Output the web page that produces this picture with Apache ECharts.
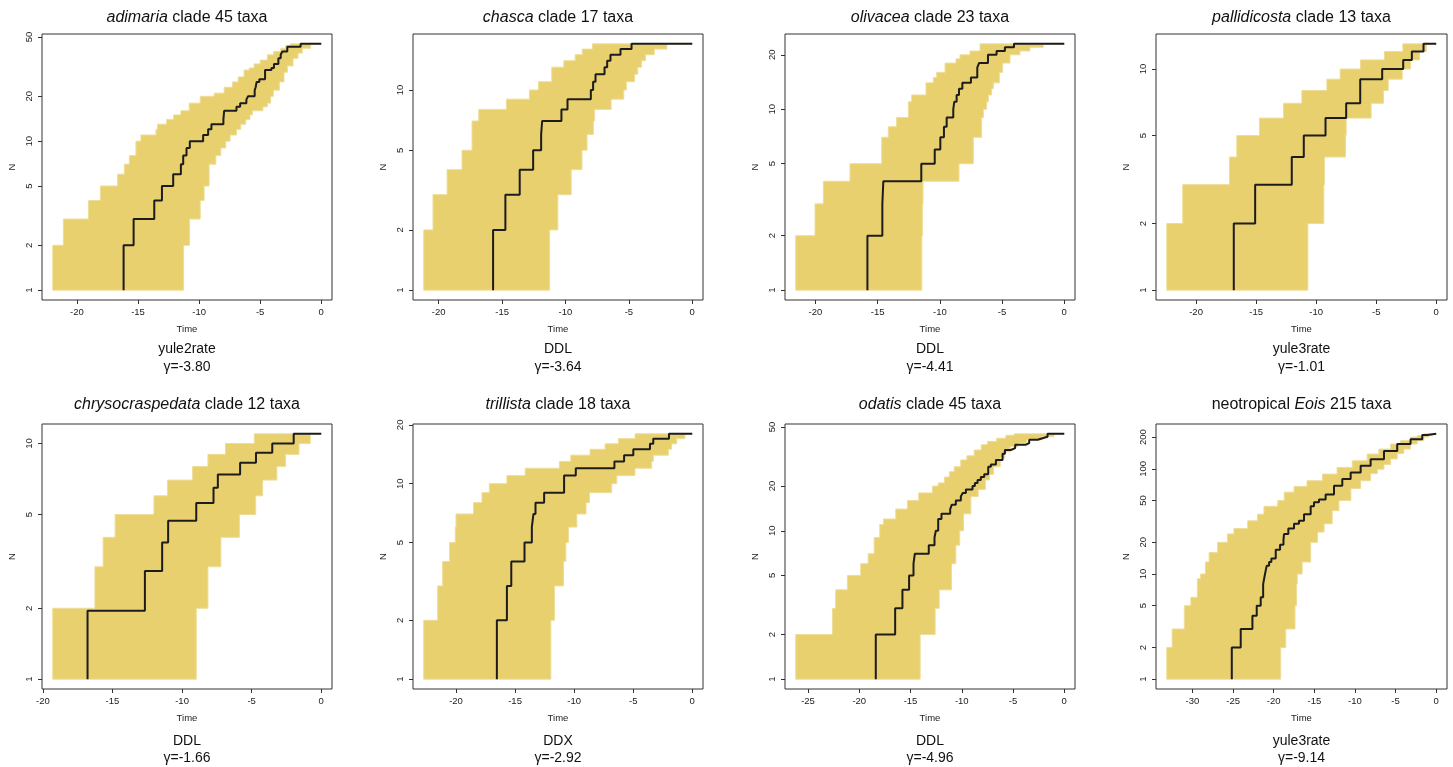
<!DOCTYPE html>
<html>
<head>
<meta charset="utf-8">
<title>Lineage through time plots</title>
<script src="https://cdn.jsdelivr.net/npm/echarts@6/dist/echarts.min.js"></script>
<style>
  html, body { margin: 0; padding: 0; background: #fff; }
  #chart { width: 1453px; height: 767px; }
</style>
</head>
<body>
<div id="chart"></div>
<script>
// panel texts
const panelTitles = [
  '{i|adimaria} clade 45 taxa', '{i|chasca} clade 17 taxa', '{i|olivacea} clade 23 taxa', '{i|pallidicosta} clade 13 taxa',
  '{i|chrysocraspedata} clade 12 taxa', '{i|trillista} clade 18 taxa', '{i|odatis} clade 45 taxa', 'neotropical {i|Eois} 215 taxa'
];
const models = ['yule2rate', 'DDL', 'DDL', 'yule3rate', 'DDL', 'DDX', 'DDL', 'yule3rate'];
const gammas = ['-3.80', '-3.64', '-4.41', '-1.01', '-1.66', '-2.92', '-4.96', '-9.14'];

// tick labels
const xTicks = [
  [-20, -15, -10, -5, 0], [-20, -15, -10, -5, 0], [-20, -15, -10, -5, 0], [-20, -15, -10, -5, 0],
  [-20, -15, -10, -5, 0], [-20, -15, -10, -5, 0], [-25, -20, -15, -10, -5, 0], [-30, -25, -20, -15, -10, -5, 0]
];
const yTicks = [
  [1, 2, 5, 10, 20, 50], [1, 2, 5, 10], [1, 2, 5, 10, 20], [1, 2, 5, 10],
  [1, 2, 5, 10], [1, 2, 5, 10, 20], [1, 2, 5, 10, 20, 50], [1, 2, 5, 10, 20, 50, 100, 200]
];

// every entry is [time, N]: at that time the lineage count jumps to N (starts at 1)
// obs = empirical tree, upper / lower = outer edges of the simulated trees
const adimariaObs = [[-16.18,2],[-15.36,3],[-13.67,4],[-13.04,5],[-12.12,6],[-11.49,7],[-11.30,8],[-11.03,9],[-10.76,10],[-9.67,11],[-9.26,12],[-8.99,13],[-8.01,14],[-7.95,16],[-6.94,17],[-6.64,18],[-6.13,19],[-5.99,20],[-5.45,22],[-5.37,23],[-5.29,25],[-5.07,26],[-4.60,30],[-4.08,31],[-3.87,33],[-3.51,36],[-3.32,38],[-3.19,40],[-2.78,43],[-1.69,45]];
const adimariaUpper = [[-21.98,2],[-21.11,3],[-19.06,4],[-18.08,5],[-16.67,6],[-16.12,7],[-15.71,8],[-15.17,10],[-14.76,11],[-13.53,12],[-13.40,13],[-12.66,14],[-12.09,15],[-11.49,16],[-10.81,18],[-9.91,20],[-8.77,21],[-7.95,23],[-7.27,25],[-6.8,27],[-6.32,30],[-5.9,31],[-5.5,33],[-5.0,35],[-4.41,38],[-3.9,40],[-3.32,42],[-2.9,44],[-2.51,45]];
const adimariaLower = [[-11.27,2],[-10.78,3],[-9.91,4],[-9.59,5],[-9.18,7],[-8.63,8],[-8.22,9],[-7.82,10],[-7.46,11],[-6.94,12],[-6.59,13],[-6.18,14],[-5.83,15],[-5.64,16],[-4.77,17],[-4.41,18],[-4.14,20],[-3.92,22],[-3.43,25],[-3.05,29],[-2.78,32],[-2.31,36],[-1.9,39],[-1.55,42],[-0.87,45]];

const chascaObs = [[-15.71,2],[-14.74,3],[-13.61,4],[-12.55,5],[-11.92,6],[-11.84,7],[-10.32,8],[-9.84,9],[-8.0,10],[-7.82,11],[-7.63,12],[-6.92,13],[-6.71,14],[-6.45,15],[-5.66,16],[-4.79,17]];
const chascaUpper = [[-21.18,2],[-20.45,3],[-19.34,4],[-18.16,5],[-17.37,7],[-16.84,8],[-14.66,9],[-12.84,10],[-12.13,11],[-11.08,13],[-10.13,14],[-9.24,15],[-8.68,16],[-7.87,17]];
const chascaLower = [[-11.25,2],[-10.6,3],[-9.55,4],[-8.7,5],[-8.3,6],[-7.8,7],[-7.7,8],[-6.4,9],[-5.4,10],[-5.2,11],[-4.55,12],[-4.3,13],[-4.0,14],[-3.7,15],[-3.0,16],[-2.0,17]];

const olivaceaObs = [[-15.82,2],[-14.62,3],[-14.54,4],[-11.49,5],[-10.41,6],[-9.96,7],[-9.67,8],[-9.45,9],[-8.92,10],[-8.84,11],[-8.65,12],[-8.46,13],[-8.19,14],[-7.50,15],[-6.99,17],[-6.85,18],[-6.13,20],[-5.44,21],[-4.77,22],[-4.04,23]];
const olivaceaUpper = [[-21.58,2],[-20.03,3],[-19.36,4],[-17.22,5],[-14.67,7],[-14.14,8],[-13.47,9],[-12.53,11],[-12.26,12],[-11.11,14],[-10.52,15],[-10.25,16],[-9.58,18],[-8.70,19],[-8.38,20],[-7.58,21],[-6.77,23]];
const olivaceaLower = [[-11.45,2],[-11.4,3],[-11.35,4],[-8.46,5],[-7.31,7],[-6.64,9],[-6.5,10],[-6.24,11],[-6.1,12],[-5.84,13],[-5.7,14],[-5.22,16],[-4.95,18],[-4.36,20],[-3.56,21],[-2.76,22],[-1.69,23]];

const pallidicostaObs = [[-16.86,2],[-15.08,3],[-12.03,4],[-11.03,5],[-9.22,6],[-7.5,7],[-6.33,9],[-4.5,10],[-2.75,11],[-2.03,12],[-1.06,13]];
const pallidicostaUpper = [[-22.44,2],[-21.11,3],[-17.22,4],[-16.61,5],[-14.72,6],[-12.72,7],[-11.19,8],[-9.11,9],[-8.0,10],[-6.31,11],[-4.31,12],[-2.78,13]];
const pallidicostaLower = [[-10.69,2],[-9.36,3],[-9.3,4],[-7.56,5],[-7.5,6],[-5.42,7],[-4.39,8],[-4.0,9],[-2.83,10],[-2.14,11],[-1.39,12],[-0.83,13]];

const chrysoObs = [[-16.79,1.95],[-12.67,2.88],[-11.43,3.8],[-11.0,4.7],[-8.98,5.6],[-7.74,6.5],[-7.43,7.4],[-5.83,8.3],[-4.69,9.15],[-3.52,10],[-1.98,11]];
const chrysoUpper = [[-19.29,2],[-16.26,3],[-15.67,4],[-14.81,5],[-12.02,6],[-11.05,7],[-9.24,8],[-8.14,9],[-6.88,10],[-4.81,11]];
const chrysoLower = [[-8.98,2],[-8.14,3],[-7.21,4],[-5.88,5],[-4.71,6],[-4.21,7],[-3.19,8],[-2.57,9],[-1.6,10],[-0.79,11]];

const trillistaObs = [[-16.54,2],[-15.69,3],[-15.32,4],[-14.2,5],[-13.58,6],[-13.44,7],[-13.27,8],[-12.54,9],[-10.85,11],[-9.86,12],[-6.59,13],[-5.77,14],[-4.99,15],[-3.58,16],[-3.3,17],[-1.97,18]];
const trillistaUpper = [[-22.73,2],[-21.55,3],[-21.13,4],[-20.54,5],[-20.06,6],[-20.0,7],[-18.51,8],[-17.8,9],[-17.18,10],[-15.69,11],[-14.14,12],[-11.24,13],[-10.28,14],[-8.65,15],[-7.38,16],[-6.25,17],[-4.84,18]];
const trillistaLower = [[-11.97,2],[-11.66,3],[-10.9,4],[-10.7,5],[-10.48,6],[-9.77,7],[-8.99,8],[-8.7,9],[-6.82,10],[-6.39,11],[-4.85,12],[-3.44,13],[-3.3,14],[-2.03,15],[-1.75,16],[-1.32,17],[-0.62,18]];

const odatisObs = [[-18.39,2],[-16.5,3],[-15.79,4],[-15.14,5],[-14.71,6],[-14.58,7],[-13.22,8],[-12.66,9],[-12.53,10],[-12.3,12],[-11.98,13],[-11.13,14],[-10.97,15],[-10.58,16],[-10.09,17],[-9.9,18],[-9.6,19],[-8.95,20],[-8.72,21],[-8.46,22],[-8.14,23],[-7.81,24],[-7.42,27],[-7.16,28],[-6.67,30],[-6.02,33],[-5.79,35],[-5.21,36],[-4.79,38],[-3.74,39],[-3.42,41],[-2.6,42],[-2.12,43],[-1.63,45]];
const odatisUpper = [[-26.2,2],[-22.62,3],[-22.3,4],[-21.16,5],[-19.86,6],[-19.14,7],[-18.55,9],[-18.0,11],[-17.64,12],[-16.44,14],[-15.3,16],[-14.2,18],[-12.86,20],[-12.3,21],[-11.7,23],[-11.2,25],[-10.74,27],[-10.1,30],[-9.5,32],[-8.79,35],[-8.1,38],[-7.49,40],[-6.6,42],[-5.7,44],[-4.88,45]];
const odatisLower = [[-14.06,2],[-12.6,3],[-12.2,4],[-11.0,6],[-10.58,8],[-10.2,10],[-9.83,13],[-9.11,17],[-8.4,19],[-7.7,22],[-7.3,24],[-6.9,27],[-6.25,31],[-5.8,34],[-5.27,37],[-4.5,39],[-3.65,41],[-2.2,43],[-1.0,45]];

const eoisObs = [[-25.16,2],[-24.06,3],[-22.62,4],[-22.09,5],[-21.6,6],[-21.3,8],[-21.07,10],[-20.86,12],[-20.57,13],[-20.29,14],[-19.75,17],[-19.22,19],[-18.8,21],[-18.73,24],[-18.2,27],[-17.5,30],[-16.89,32],[-16.27,37],[-15.45,44],[-15.04,48],[-14.43,51],[-13.61,57],[-12.58,69],[-11.56,80],[-10.53,92],[-9.3,107],[-8.07,123],[-6.43,148],[-4.8,172],[-3.16,191],[-1.72,210],[-1.1,215]];
const eoisUpper = [[-33.16,2],[-32.5,3],[-31.0,5],[-30.2,6],[-29.4,9],[-29.0,10],[-28.4,13],[-27.95,16],[-26.9,20],[-25.7,24],[-24.9,27],[-23.2,32],[-22.0,37],[-21.2,44],[-19.5,50],[-18.7,60],[-17.5,68],[-15.9,77],[-14.0,89],[-12.2,103],[-10.33,119],[-8.5,138],[-7.05,154],[-5.6,172],[-4.39,185],[-3.16,200],[-2.34,207],[-1.5,215]];
const eoisLower = [[-19.14,2],[-18.52,3],[-17.38,5],[-17.2,8],[-17.1,10],[-16.5,13],[-15.45,20],[-14.6,25],[-13.8,30],[-12.8,40],[-11.97,50],[-10.5,65],[-9.3,77],[-8.07,90],[-7.25,99],[-6.43,110],[-5.61,124],[-4.8,140],[-3.98,154],[-3.16,172],[-2.34,185],[-1.52,200],[-0.9,208],[-0.5,215]];

const panels = [
  { obs: adimariaObs, upper: adimariaUpper, lower: adimariaLower },
  { obs: chascaObs, upper: chascaUpper, lower: chascaLower },
  { obs: olivaceaObs, upper: olivaceaUpper, lower: olivaceaLower },
  { obs: pallidicostaObs, upper: pallidicostaUpper, lower: pallidicostaLower },
  { obs: chrysoObs, upper: chrysoUpper, lower: chrysoLower },
  { obs: trillistaObs, upper: trillistaUpper, lower: trillistaLower },
  { obs: odatisObs, upper: odatisUpper, lower: odatisLower },
  { obs: eoisObs, upper: eoisUpper, lower: eoisLower }
];

const FONT = "'Liberation Sans', Arial, Helvetica, sans-serif";
const FILL = '#E8D06E';
const EDGE = '#EEDD98';
const INK = '#222';

const colLeft = [42, 413, 785, 1156];
const colWidth = [290, 290, 290, 291];
const rowTop = [34, 424];
const rowHeight = [266, 265];
const titleTop = [10, 397];
const modelTop = [342, 734];
const gammaTop = [360, 751];

const lg = n => Math.log10(n);

// outline of the simulated band: outer step edge, then inner step edge backwards
function bandOutline(upper, lower) {
  const pts = [[upper[0][0], 1]];
  let prev = 1;
  upper.forEach(([t, n]) => { pts.push([t, prev], [t, n]); prev = n; });
  pts.push([0, prev]);
  for (let i = lower.length - 1; i >= 0; i--) {
    const [t, n] = lower[i];
    pts.push([t, n], [t, i > 0 ? lower[i - 1][1] : 1]);
  }
  return pts;
}

const grids = [], xAxes = [], yAxes = [], series = [], titles = [];

panels.forEach((p, i) => {
  const row = Math.floor(i / 4), col = i % 4;
  const tMin = p.upper[0][0];
  const xPad = 0.04 * -tMin;
  const L = lg(p.upper[p.upper.length - 1][1]);
  const yPad = 0.04 * L;
  const cx = colLeft[col] + colWidth[col] / 2;

  grids.push({
    left: colLeft[col], top: rowTop[row], width: colWidth[col], height: rowHeight[row],
    show: true, borderColor: '#333', borderWidth: 1, backgroundColor: 'transparent'
  });

  xAxes.push({
    gridIndex: i, type: 'value', min: tMin - xPad, max: xPad,
    axisLine: { show: false, onZero: false },
    axisTick: { show: true, length: 4, customValues: xTicks[i], lineStyle: { color: '#333', width: 1 } },
    axisLabel: { customValues: xTicks[i], margin: 7, fontSize: 9.5, color: INK, fontFamily: FONT },
    splitLine: { show: false },
    name: 'Time', nameLocation: 'middle', nameGap: 24,
    nameTextStyle: { fontSize: 9.5, color: INK, fontFamily: FONT }
  });

  const yt = yTicks[i].map(lg);
  yAxes.push({
    gridIndex: i, type: 'value', min: -yPad, max: L + yPad,
    axisLine: { show: false, onZero: false },
    axisTick: { show: true, length: 4, customValues: yt, lineStyle: { color: '#333', width: 1 } },
    axisLabel: {
      customValues: yt, rotate: 90, margin: 8, fontSize: 9.5, color: INK, fontFamily: FONT,
      formatter: v => String(Math.round(Math.pow(10, v)))
    },
    splitLine: { show: false },
    name: 'N', nameLocation: 'middle', nameGap: 25, nameRotate: 90,
    nameTextStyle: { fontSize: 9.5, color: INK, fontFamily: FONT }
  });

  const outline = bandOutline(p.upper, p.lower);
  series.push({
    type: 'custom', xAxisIndex: i, yAxisIndex: i, silent: true, z: 1,
    data: [[0, 0]],
    renderItem: (params, api) => ({
      type: 'polygon',
      shape: { points: outline.map(d => api.coord([d[0], lg(d[1])])) },
      style: { fill: FILL, stroke: EDGE, lineWidth: 1 }
    })
  });

  const obs = [[p.obs[0][0], 0]].concat(p.obs.map(d => [d[0], lg(d[1])]));
  obs.push([0, lg(p.obs[p.obs.length - 1][1])]);
  series.push({
    type: 'line', xAxisIndex: i, yAxisIndex: i, step: 'end', z: 3,
    data: obs, symbol: 'none', silent: true,
    lineStyle: { color: '#1c1c1c', width: 2 }
  });

  titles.push({
    text: panelTitles[i], left: cx, top: titleTop[row], textAlign: 'center', padding: 0,
    textStyle: {
      fontSize: 16, fontWeight: 'normal', color: '#111', fontFamily: FONT,
      rich: { i: { fontSize: 16, fontStyle: 'italic', color: '#111', fontFamily: FONT } }
    }
  });
  titles.push({
    text: models[i], left: cx, top: modelTop[row], textAlign: 'center', padding: 0,
    textStyle: { fontSize: 14, fontWeight: 'normal', color: '#111', fontFamily: FONT }
  });
  titles.push({
    text: '\u03b3=' + gammas[i], left: cx, top: gammaTop[row], textAlign: 'center', padding: 0,
    textStyle: { fontSize: 14, fontWeight: 'normal', color: '#111', fontFamily: FONT }
  });
});

const chart = echarts.init(document.getElementById('chart'), null, { renderer: 'canvas' });
chart.setOption({
  animation: false,
  backgroundColor: '#fff',
  title: titles,
  grid: grids,
  xAxis: xAxes,
  yAxis: yAxes,
  series: series
});
</script>
</body>
</html>
